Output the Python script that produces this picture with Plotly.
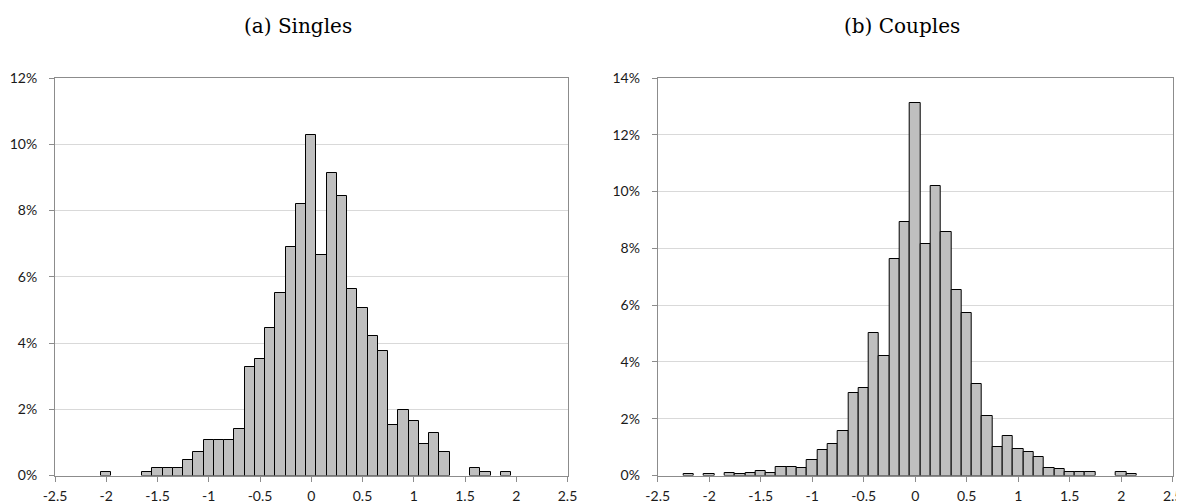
import plotly.graph_objects as go

# ---- data ----
singles_centers = [-2.0, -1.9, -1.8, -1.7, -1.6, -1.5, -1.4, -1.3, -1.2, -1.1,
                   -1.0, -0.9, -0.8, -0.7, -0.6, -0.5, -0.4, -0.3, -0.2, -0.1,
                   0.0, 0.1, 0.2, 0.3, 0.4, 0.5, 0.6, 0.7, 0.8, 0.9,
                   1.0, 1.1, 1.2, 1.3, 1.4, 1.5, 1.6, 1.7, 1.8, 1.9]
singles_pct = [0.11, 0, 0, 0, 0.11, 0.24, 0.24, 0.24, 0.47, 0.70,
               1.07, 1.07, 1.07, 1.41, 3.27, 3.51, 4.45, 5.50, 6.91, 8.19,
               10.28, 6.66, 9.12, 8.44, 5.62, 5.05, 4.21, 3.75, 1.52, 1.99,
               1.64, 0.95, 1.29, 0.70, 0, 0, 0.24, 0.11, 0, 0.11]

couples_centers = [-2.2, -2.1, -2.0, -1.9, -1.8, -1.7, -1.6, -1.5, -1.4, -1.3,
                   -1.2, -1.1, -1.0, -0.9, -0.8, -0.7, -0.6, -0.5, -0.4, -0.3,
                   -0.2, -0.1, 0.0, 0.1, 0.2, 0.3, 0.4, 0.5, 0.6, 0.7,
                   0.8, 0.9, 1.0, 1.1, 1.2, 1.3, 1.4, 1.5, 1.6, 1.7,
                   1.8, 1.9, 2.0, 2.1]
couples_pct = [0.05, 0, 0.05, 0, 0.10, 0.05, 0.10, 0.15, 0.10, 0.29,
               0.29, 0.25, 0.56, 0.90, 1.12, 1.55, 2.92, 3.09, 5.03, 4.22,
               7.64, 8.92, 13.13, 8.16, 10.18, 8.57, 6.54, 5.71, 3.21, 2.09,
               1.01, 1.38, 0.92, 0.83, 0.65, 0.28, 0.24, 0.11, 0.11, 0.14,
               0, 0, 0.11, 0.06]

x_tickvals = [-2.5, -2, -1.5, -1, -0.5, 0, 0.5, 1, 1.5, 2, 2.5]
x_ticktext = ["-2.5", "-2", "-1.5", "-1", "-0.5", "0", "0.5", "1", "1.5", "2", "2.5"]
singles_yticks = [0, 2, 4, 6, 8, 10, 12]
singles_ytext = ["0%", "2%", "4%", "6%", "8%", "10%", "12%"]
couples_yticks = [0, 2, 4, 6, 8, 10, 12, 14]
couples_ytext = ["0%", "2%", "4%", "6%", "8%", "10%", "12%", "14%"]
titles = ["(a) Singles", "(b) Couples"]

# ---- figure ----
# page body has an 8px margin; size the figure so it fills the 1184x503 window
OFF = 8
W, H = 1184 - OFF, 503 - OFF
fig = go.Figure()

def nz(vals):
    return [v if v > 0 else None for v in vals]

def px_x(p):
    return (p - OFF) / W

def px_y(p):
    return (H - (p - OFF)) / H

bar_style = dict(width=0.1, marker=dict(color="#bfbfbf", line=dict(color="#000000", width=1)),
                 showlegend=False, hoverinfo="x+y")
fig.add_trace(go.Bar(x=singles_centers, y=nz(singles_pct), xaxis="x", yaxis="y", **bar_style))
fig.add_trace(go.Bar(x=couples_centers, y=nz(couples_pct), xaxis="x2", yaxis="y2", **bar_style))

tickfont = dict(family="Lato, 'Open Sans', sans-serif", size=14, color="#1a1a1a")
axis_common = dict(showline=True, linecolor="#8c8c8c", linewidth=1, mirror=True,
                   ticks="outside", ticklen=5, tickcolor="#8c8c8c", tickfont=tickfont,
                   zeroline=False, automargin=False)

ydom = [px_y(475.5), px_y(78)]
fig.update_layout(
    width=W, height=H,
    margin=dict(l=0, r=0, t=0, b=0, autoexpand=False),
    plot_bgcolor="white", paper_bgcolor="white",
    bargap=0,
    xaxis=dict(domain=[px_x(55), px_x(567.5)], range=[-2.5, 2.5], tickmode="array",
               tickvals=x_tickvals, ticktext=x_ticktext, showgrid=False, anchor="y",
               ticklabelstandoff=3, **axis_common),
    yaxis=dict(domain=ydom, range=[0, 12], tickmode="array",
               tickvals=singles_yticks, ticktext=singles_ytext,
               showgrid=True, gridcolor="#d9d9d9", gridwidth=1,
               anchor="x", ticklabelstandoff=9, **axis_common),
    xaxis2=dict(domain=[px_x(657.7), px_x(1172.7)], range=[-2.5, 2.5], tickmode="array",
                tickvals=x_tickvals, ticktext=x_ticktext, showgrid=False, anchor="y2",
                ticklabelstandoff=3, **axis_common),
    yaxis2=dict(domain=ydom, range=[0, 14], tickmode="array",
                tickvals=couples_yticks, ticktext=couples_ytext,
                showgrid=True, gridcolor="#d9d9d9", gridwidth=1,
                anchor="x2", ticklabelstandoff=9, **axis_common),
)

title_font = dict(family="'DejaVu Serif', 'Liberation Serif', serif", size=20, color="#000000")
for txt, xc in zip(titles, [297.5, 902]):
    fig.add_annotation(text=txt, x=px_x(xc), y=px_y(26), xref="paper", yref="paper",
                       xanchor="center", yanchor="middle", showarrow=False, font=title_font)

fig.write_html("out.html")
